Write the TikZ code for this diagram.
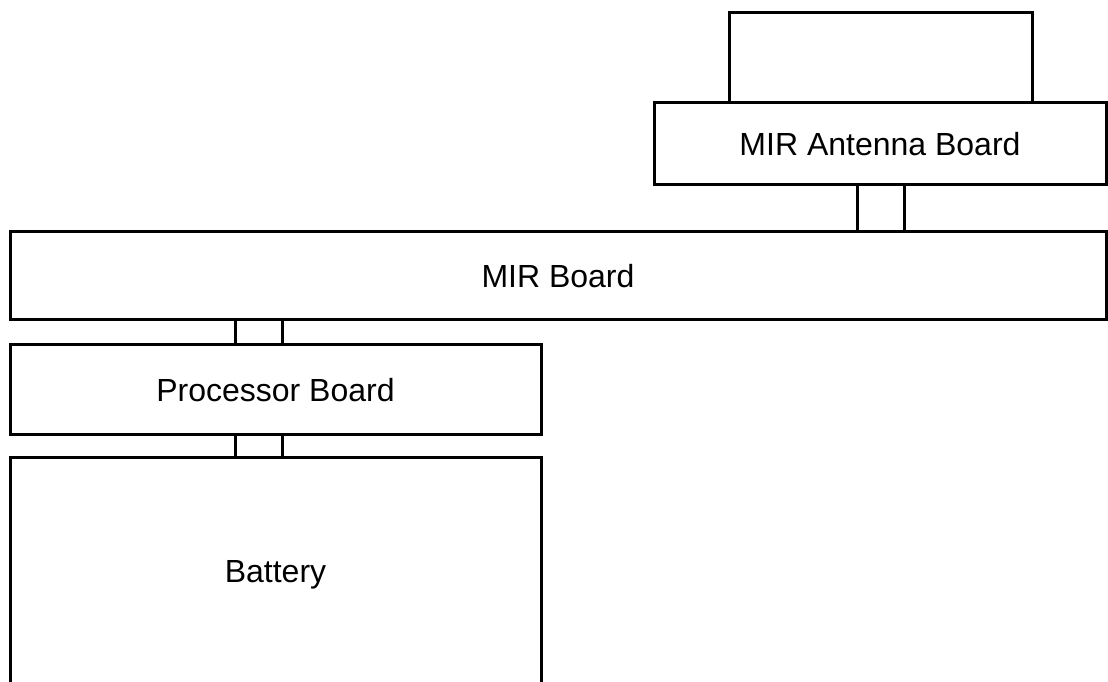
\documentclass[tikz,border=0pt]{standalone}
\usepackage{fontspec}
\setmainfont{Liberation Sans}
\usetikzlibrary{positioning}

\begin{document}
\begin{tikzpicture}[x=1pt, y=1pt, node distance=25pt,
    board/.style={rectangle, draw, line width=3pt, inner sep=0pt, outer sep=0pt, text centered, font=\fontsize{32}{38}\selectfont},
    plug/.style={rectangle, draw, line width=3pt, minimum width=47pt, inner sep=0pt, outer sep=0pt}]
    \useasboundingbox (0,0) rectangle (1108,682);
    \clip (0,0) rectangle (1108,682);

    \node [board, minimum width=1096pt, minimum height=88pt, anchor=north west] (mir) at (10,450) {MIR Board};
    \node [board, minimum width=452pt, minimum height=82pt, above left=47pt and 0pt of mir.north east] (ant) {MIR Antenna Board};
    \node [board, minimum width=303pt, minimum height=90pt, above right=0pt and 75pt of ant.north west] (top) {};
    \node [board, minimum width=531pt, minimum height=90pt, below right=25pt and 0pt of mir.south west] (proc) {Processor Board};
    \node [board, minimum width=531pt, minimum height=250pt, below right=23pt and 0pt of proc.south west] (batt) {};
    \node at (batt.center |- 0,107) [font=\fontsize{32}{38}\selectfont] (battlabel) {Battery};

    \node [plug, minimum height=47pt, below right=0pt and 203pt of ant.south west] (p1) {};
    \node [plug, minimum height=25pt, below right=0pt and 225pt of mir.south west] (p2) {};
    \node [plug, minimum height=23pt, below right=0pt and 225pt of proc.south west] (p3) {};
\end{tikzpicture}
\end{document}
